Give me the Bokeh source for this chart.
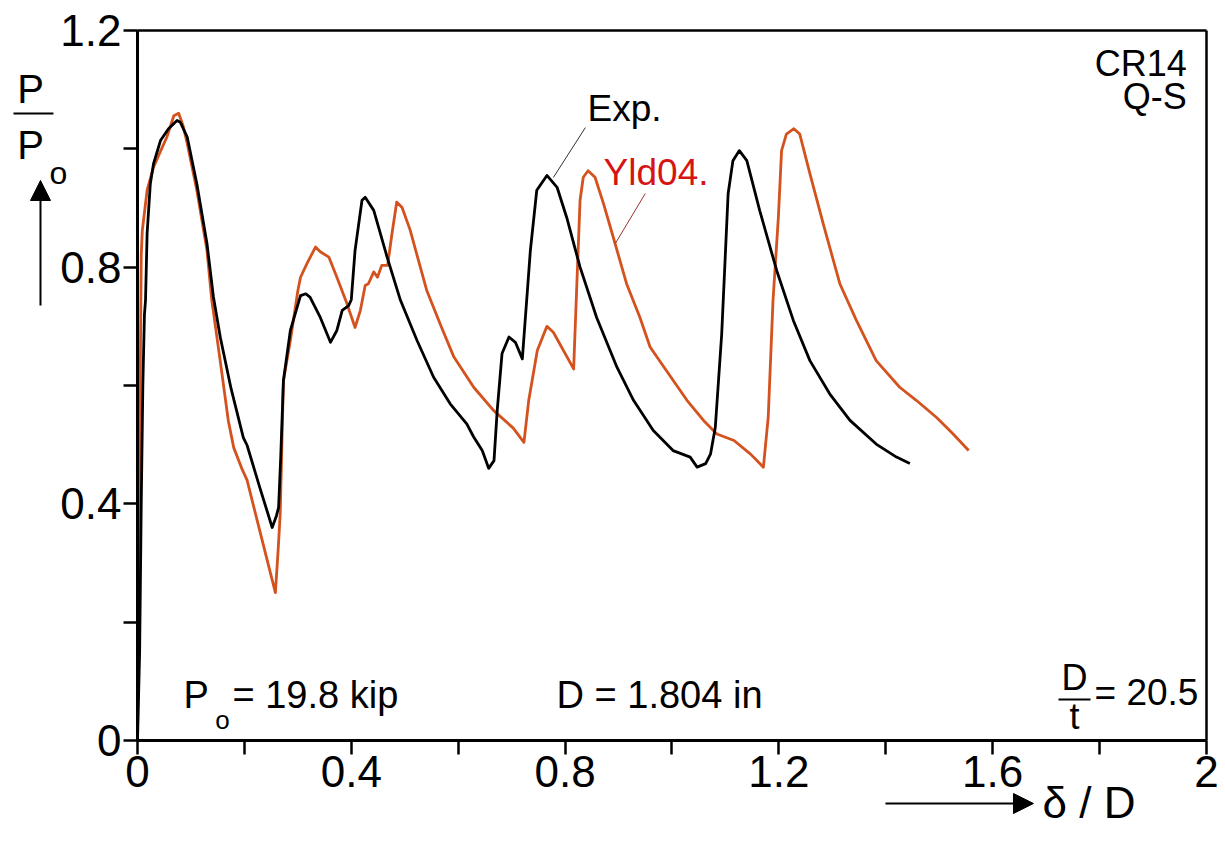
from bokeh.plotting import figure
from bokeh.models import (Range1d, FixedTicker, Label, Arrow, NormalHead, LinearAxis)
from bokeh.embed import file_html
from bokeh.resources import INLINE

# Experimental load-displacement response (delta/D, P/Po)
exp_x = [0.000, 0.004, 0.007, 0.010, 0.013, 0.015, 0.018, 0.024, 0.030, 0.043, 0.058,
         0.074, 0.080, 0.093, 0.111, 0.130, 0.142, 0.155, 0.175, 0.198, 0.205, 0.228,
         0.252, 0.260, 0.264, 0.268, 0.273, 0.286, 0.305, 0.315, 0.323, 0.342, 0.361,
         0.373, 0.383, 0.395, 0.400, 0.407, 0.420, 0.426, 0.442, 0.467, 0.492, 0.523,
         0.554, 0.585, 0.616, 0.629, 0.645, 0.657, 0.667, 0.673, 0.682, 0.695, 0.707,
         0.720, 0.735, 0.747, 0.766, 0.785, 0.803, 0.828, 0.859, 0.897, 0.928, 0.965,
         1.002, 1.034, 1.047, 1.063, 1.072, 1.081, 1.093, 1.105, 1.114, 1.126, 1.140,
         1.164, 1.196, 1.227, 1.258, 1.295, 1.333, 1.382, 1.420, 1.445]
exp_y = [0.000, 0.150, 0.400, 0.600, 0.720, 0.744, 0.857, 0.941, 0.975, 1.014, 1.034,
         1.048, 1.045, 1.020, 0.941, 0.840, 0.750, 0.681, 0.595, 0.512, 0.499, 0.430,
         0.360, 0.380, 0.394, 0.480, 0.608, 0.693, 0.752, 0.755, 0.749, 0.715, 0.673,
         0.693, 0.727, 0.735, 0.745, 0.828, 0.913, 0.918, 0.896, 0.817, 0.744, 0.676,
         0.614, 0.569, 0.535, 0.513, 0.490, 0.460, 0.473, 0.558, 0.654, 0.682, 0.673,
         0.645, 0.828, 0.930, 0.955, 0.935, 0.884, 0.800, 0.715, 0.631, 0.575, 0.524,
         0.490, 0.479, 0.462, 0.468, 0.484, 0.529, 0.687, 0.924, 0.980, 0.997, 0.980,
         0.896, 0.794, 0.710, 0.642, 0.586, 0.541, 0.501, 0.479, 0.468]

# Yld04 model prediction
yld_x = [0.000, 0.003, 0.005, 0.007, 0.009, 0.018, 0.030, 0.045, 0.055, 0.068, 0.077,
         0.085, 0.093, 0.111, 0.130, 0.139, 0.155, 0.170, 0.180, 0.195, 0.205, 0.230,
         0.258, 0.263, 0.267, 0.273, 0.286, 0.300, 0.305, 0.317, 0.333, 0.342, 0.358,
         0.373, 0.392, 0.407, 0.417, 0.426, 0.432, 0.442, 0.449, 0.457, 0.468, 0.476,
         0.485, 0.495, 0.510, 0.541, 0.568, 0.592, 0.629, 0.666, 0.703, 0.723, 0.732,
         0.748, 0.766, 0.778, 0.816, 0.822, 0.828, 0.834, 0.843, 0.856, 0.872, 0.890,
         0.915, 0.940, 0.959, 0.978, 1.015, 1.028, 1.059, 1.084, 1.116, 1.147, 1.171,
         1.180, 1.189, 1.199, 1.205, 1.214, 1.228, 1.239, 1.258, 1.283, 1.314, 1.345,
         1.382, 1.426, 1.457, 1.495, 1.526, 1.555]
yld_y = [0.000, 0.300, 0.600, 0.820, 0.862, 0.930, 0.969, 1.000, 1.020, 1.056, 1.060,
         1.040, 1.009, 0.930, 0.828, 0.744, 0.640, 0.540, 0.495, 0.460, 0.440, 0.350,
         0.250, 0.320, 0.383, 0.608, 0.676, 0.760, 0.783, 0.806, 0.834, 0.826, 0.817,
         0.783, 0.738, 0.698, 0.727, 0.769, 0.772, 0.792, 0.783, 0.803, 0.803, 0.856,
         0.910, 0.901, 0.863, 0.761, 0.700, 0.648, 0.597, 0.558, 0.528, 0.504, 0.575,
         0.659, 0.700, 0.690, 0.628, 0.772, 0.913, 0.952, 0.963, 0.952, 0.907, 0.851,
         0.772, 0.715, 0.665, 0.640, 0.592, 0.575, 0.541, 0.518, 0.507, 0.484, 0.462,
         0.546, 0.744, 0.884, 0.997, 1.025, 1.034, 1.025, 0.958, 0.873, 0.772, 0.710,
         0.642, 0.597, 0.575, 0.546, 0.518, 0.490]

x_ticks = [0, 0.2, 0.4, 0.6, 0.8, 1.0, 1.2, 1.4, 1.6, 1.8, 2.0]
x_tick_labels = ["0", "", "0.4", "", "0.8", "", "1.2", "", "1.6", "", "2"]
y_ticks = [0, 0.2, 0.4, 0.6, 0.8, 1.0, 1.2]
y_tick_labels = ["0", "", "0.4", "", "0.8", "", "1.2"]
X_MAX, Y_MAX = 2.0, 1.2

FONT = "Liberation Sans"
ORANGE = "#D4521E"
RED = "#D61414"

# The plotting area fills the whole canvas; the axes sit at x=0 / y=0 so that
# the titles and arrows outside the data box are still drawn.
p = figure(width=1225, height=854,
           x_range=Range1d(-0.25631, 2.03555), y_range=Range1d(-0.19268, 1.25070),
           x_axis_type=None, y_axis_type=None,
           output_backend="svg", toolbar_location=None, min_border=0)
p.background_fill_color = "white"
p.border_fill_color = "white"
p.grid.visible = False
p.outline_line_color = None

xaxis = LinearAxis(fixed_location=0, bounds=(0, X_MAX))
yaxis = LinearAxis(fixed_location=0, bounds=(0, Y_MAX))
p.add_layout(xaxis, "below")
p.add_layout(yaxis, "left")

for ax, ticks, labels in ((xaxis, x_ticks, x_tick_labels), (yaxis, y_ticks, y_tick_labels)):
    ax.ticker = FixedTicker(ticks=ticks)
    ax.major_label_overrides = {t: l for t, l in zip(ticks, labels)}
    ax.axis_line_width = 3
    ax.major_tick_line_width = 2.5
    ax.major_tick_out = 14
    ax.major_tick_in = 0
    ax.minor_tick_line_color = None
    ax.major_label_text_font = FONT
    ax.major_label_text_font_size = "44px"
    ax.major_label_text_color = "black"
    ax.major_label_standoff = 2

# top and right edges of the data box
p.segment(x0=[0, X_MAX], y0=[Y_MAX, 0], x1=[X_MAX, X_MAX], y1=[Y_MAX, Y_MAX],
          line_color="black", line_width=2.5)

p.line(yld_x, yld_y, line_color=ORANGE, line_width=2.8, line_join="round")
p.line(exp_x, exp_y, line_color="black", line_width=2.8, line_join="round")

# leader lines for the curve labels
p.segment(x0=[0.778], y0=[0.9515], x1=[0.838], y1=[1.036], line_color="#333333", line_width=1)
p.segment(x0=[0.950], y0=[0.9245], x1=[0.894], y1=[0.840], line_color="#A03030", line_width=1)


def label(x, y, text, size="37px", color="black", align="left", baseline="alphabetic"):
    p.add_layout(Label(x=x, y=y, text=text, text_font=FONT, text_font_size=size,
                       text_color=color, text_align=align, text_baseline=baseline))


def rule(x0, x1, y):
    p.add_layout(Arrow(end=None, x_start=x0, y_start=y, x_end=x1, y_end=y,
                       line_color="black", line_width=2))


label(0.842, 1.0678, "Exp.")
label(0.872, 0.9597, "Yld04.", color=RED)
label(1.963, 1.1449, "CR14", size="36px", align="right")
label(1.963, 1.0891, "Q-S", size="36px", align="right")

# specimen data
label(0.086, 0.0764, "P", size="38px")
label(0.159, 0.0345, "o", size="26px", align="center")
label(0.1777, 0.0764, "= 19.8 kip", size="38px")
label(0.784, 0.0764, "D = 1.804 in", size="38px")
label(1.7531, 0.1072, "D", size="36px", align="center")
rule(1.7231, 1.7830, 0.0693)
label(1.7531, 0.0412, "t", size="36px", align="center")
label(1.7905, 0.0808, "= 20.5")

# vertical axis title: P / Po with arrow
label(-0.2002, 1.1003, "P", size="40px", align="center")
rule(-0.232, -0.1572, 1.0597)
label(-0.2002, 1.0073, "P", size="40px", align="center")
label(-0.1478, 0.9597, "o", size="32px", align="center")
p.add_layout(Arrow(end=NormalHead(size=20, fill_color="black", line_color="black"),
                   x_start=-0.1815, y_start=0.7352, x_end=-0.1815, y_end=0.9465,
                   line_color="black", line_width=2))

# horizontal axis title: delta / D with arrow
p.add_layout(Arrow(end=NormalHead(size=20, fill_color="black", line_color="black"),
                   x_start=1.3994, y_start=-0.1065, x_end=1.6763, y_end=-0.1065,
                   line_color="black", line_width=2))
label(1.6931, -0.1055, "δ / D", size="44px")

open("out.html", "w").write(file_html(p, INLINE))
